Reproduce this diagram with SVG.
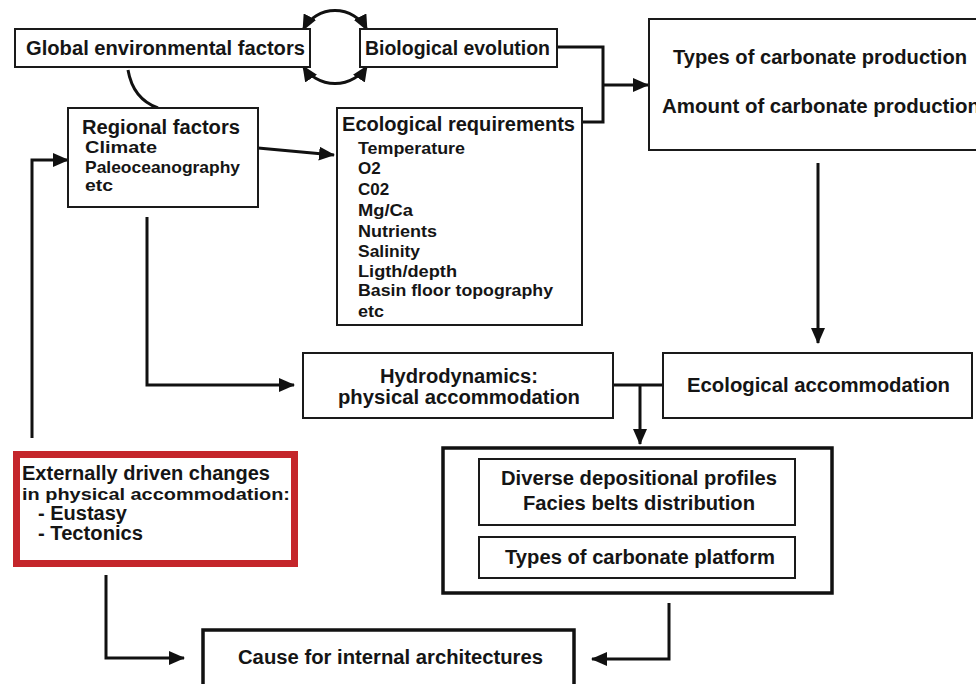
<svg xmlns="http://www.w3.org/2000/svg" width="976" height="684" viewBox="0 0 976 684">
<defs>
<marker id="ah" markerUnits="userSpaceOnUse" markerWidth="16" markerHeight="14" refX="15" refY="7" orient="auto-start-reverse">
<path d="M0,0 L16,7 L0,14 z" fill="#111"/>
</marker>
<marker id="ahs" markerUnits="userSpaceOnUse" markerWidth="16" markerHeight="14" refX="15" refY="7" orient="auto-start-reverse">
<path d="M0,0 L16,7 L0,14 z" fill="#111"/>
</marker>
</defs>
<style>
text{font-family:"Liberation Sans",Arial,Helvetica,sans-serif;font-weight:bold;fill:#151515}
.box{fill:#fff;stroke:#1a1a1a;stroke-width:2}
.thick{fill:#fff;stroke:#111;stroke-width:3.5}
.red{fill:#fff;stroke:#c4262b;stroke-width:7}
.c{fill:none;stroke:#111;stroke-width:3}
.t20{font-size:20px}
.t19{font-size:19px}
.t17{font-size:17px}
.mid{text-anchor:middle}
</style>
<rect width="976" height="684" fill="#fff"/>
<g id="connectors">
<path class="c" d="M128,70 Q133,99 158,108"/>
<path class="c" d="M303,30 A36,36 0 0 1 367,30" marker-start="url(#ahs)" marker-end="url(#ahs)"/>
<path class="c" d="M303,66 A38,38 0 0 0 367,66" marker-start="url(#ahs)" marker-end="url(#ahs)"/>
<path class="c" d="M557,47 H603 V122 H582"/>
<path class="c" d="M603,85 H648" marker-end="url(#ah)"/>
<path class="c" d="M258,148 L334,155" marker-end="url(#ah)"/>
<path class="c" d="M32,438 V160 H68" marker-end="url(#ah)"/>
<path class="c" d="M147,217 V385 H294" marker-end="url(#ah)"/>
<path class="c" d="M818,163 V343" marker-end="url(#ah)"/>
<path class="c" d="M613,385 H663"/>
<path class="c" d="M640,385 V444" marker-end="url(#ah)"/>
<path class="c" d="M106,575 V658 H184" marker-end="url(#ah)"/>
<path class="c" d="M669,603 V659 H592" marker-end="url(#ah)"/>
</g>
<g id="global">
<rect class="box" x="15" y="29" width="295" height="38"/>
<text class="t20" x="26" y="55" textLength="279" lengthAdjust="spacingAndGlyphs">Global environmental factors</text>
</g>
<g id="biological">
<rect class="box" x="360" y="29" width="197" height="38"/>
<text class="t20" x="365" y="55" textLength="185" lengthAdjust="spacingAndGlyphs">Biological evolution</text>
</g>
<g id="carbonate-production">
<rect class="box" x="649" y="19" width="340" height="131"/>
<text class="t20" x="673" y="64" textLength="294" lengthAdjust="spacingAndGlyphs">Types of carbonate production</text>
<text class="t20" x="662" y="113" textLength="318" lengthAdjust="spacingAndGlyphs">Amount of carbonate production</text>
</g>
<g id="regional">
<rect class="box" x="68" y="108" width="190" height="99"/>
<text class="t20" x="82" y="134" textLength="158" lengthAdjust="spacingAndGlyphs">Regional factors</text>
<text class="t17" x="85" y="153" textLength="72" lengthAdjust="spacingAndGlyphs">Climate</text>
<text class="t17" x="85" y="173" textLength="155" lengthAdjust="spacingAndGlyphs">Paleoceanography</text>
<text class="t17" x="85" y="191" textLength="28" lengthAdjust="spacingAndGlyphs">etc</text>
</g>
<g id="ecological-requirements">
<rect class="box" x="337" y="108" width="245" height="217"/>
<text class="t20" x="342" y="131" textLength="233" lengthAdjust="spacingAndGlyphs">Ecological requirements</text>
<text class="t17" x="358" y="154" textLength="107" lengthAdjust="spacingAndGlyphs">Temperature</text>
<text class="t17" x="358" y="174">O2</text>
<text class="t17" x="358" y="195">C02</text>
<text class="t17" x="358" y="216" textLength="55" lengthAdjust="spacingAndGlyphs">Mg/Ca</text>
<text class="t17" x="358" y="237" textLength="79" lengthAdjust="spacingAndGlyphs">Nutrients</text>
<text class="t17" x="358" y="257" textLength="62" lengthAdjust="spacingAndGlyphs">Salinity</text>
<text class="t17" x="358" y="277" textLength="99" lengthAdjust="spacingAndGlyphs">Ligth/depth</text>
<text class="t17" x="358" y="296" textLength="195" lengthAdjust="spacingAndGlyphs">Basin floor topography</text>
<text class="t17" x="358" y="317" textLength="26" lengthAdjust="spacingAndGlyphs">etc</text>
</g>
<g id="hydrodynamics">
<rect class="box" x="303" y="353" width="310" height="65"/>
<text class="t20 mid" x="459" y="383" textLength="158" lengthAdjust="spacingAndGlyphs">Hydrodynamics:</text>
<text class="t20 mid" x="459" y="404" textLength="242" lengthAdjust="spacingAndGlyphs">physical accommodation</text>
</g>
<g id="ecological-accommodation">
<rect class="box" x="663" y="353" width="309" height="65"/>
<text class="t20" x="687" y="392" textLength="263" lengthAdjust="spacingAndGlyphs">Ecological accommodation</text>
</g>
<g id="external">
<rect class="red" x="16.5" y="454.5" width="278" height="109"/>
<text class="t20" x="22" y="480" textLength="248" lengthAdjust="spacingAndGlyphs">Externally driven changes</text>
<text class="t17" x="22" y="500" textLength="268" lengthAdjust="spacingAndGlyphs">in physical accommodation:</text>
<text class="t20" x="38" y="520" textLength="89" lengthAdjust="spacingAndGlyphs">- Eustasy</text>
<text class="t20" x="38" y="540" textLength="105" lengthAdjust="spacingAndGlyphs">- Tectonics</text>
</g>
<g id="platform">
<rect class="thick" x="443" y="448" width="389" height="145"/>
<rect class="box" x="479" y="459" width="316" height="66"/>
<text class="t20 mid" x="639" y="485" textLength="276" lengthAdjust="spacingAndGlyphs">Diverse depositional profiles</text>
<text class="t20 mid" x="639" y="510" textLength="232" lengthAdjust="spacingAndGlyphs">Facies belts distribution</text>
<rect class="box" x="479" y="537" width="316" height="41"/>
<text class="t20 mid" x="640" y="564" textLength="270" lengthAdjust="spacingAndGlyphs">Types of carbonate platform</text>
</g>
<g id="cause">
<rect class="thick" x="203" y="630" width="371" height="64"/>
<text class="t20" x="238" y="664" textLength="305" lengthAdjust="spacingAndGlyphs">Cause for internal architectures</text>
</g>
</svg>
